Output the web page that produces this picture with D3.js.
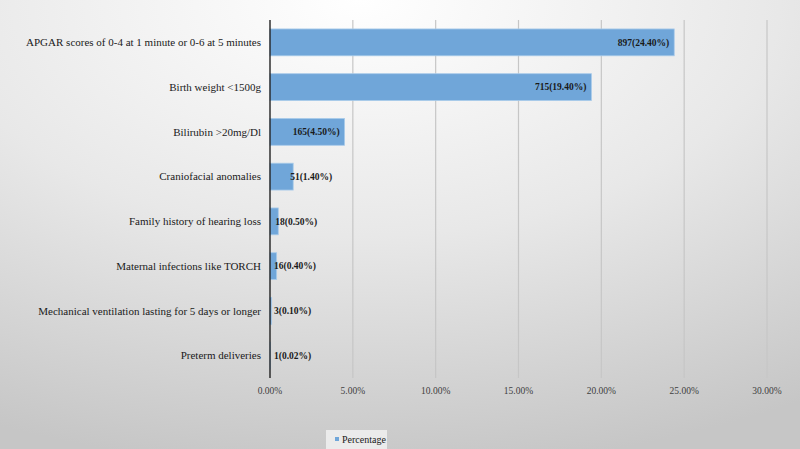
<!DOCTYPE html>
<html>
<head>
<meta charset="utf-8">
<script src="https://cdn.jsdelivr.net/npm/d3@7/dist/d3.min.js"></script>
<style>
  body { margin: 0; }
  svg { display: block; }
</style>
</head>
<body>
<svg id="chart" width="800" height="449"></svg>
<script>
// data
const categories = [
  "APGAR scores of 0-4 at 1 minute or 0-6 at 5 minutes",
  "Birth weight <1500g",
  "Bilirubin >20mg/Dl",
  "Craniofacial anomalies",
  "Family history of hearing loss",
  "Maternal infections like TORCH",
  "Mechanical ventilation lasting for 5 days or longer",
  "Preterm deliveries"
];
const counts = [897, 715, 165, 51, 18, 16, 3, 1];
const percentages = [24.40, 19.40, 4.50, 1.40, 0.50, 0.40, 0.10, 0.02];
const xTicks = [0, 5, 10, 15, 20, 25, 30];
const seriesName = "Percentage";

const width = 800, height = 449;
const margin = {top: 20, right: 33, bottom: 71, left: 270};

const svg = d3.select('#chart');

// background gradient
const defs = svg.append('defs');
const grad = defs.append('radialGradient')
  .attr('id', 'bg')
  .attr('cx', '45%').attr('cy', '0%')
  .attr('r', '105%')
  .attr('gradientUnits', 'objectBoundingBox');
grad.append('stop').attr('offset', '0%').attr('stop-color', '#ffffff');
grad.append('stop').attr('offset', '50%').attr('stop-color', '#e8e8e8');
grad.append('stop').attr('offset', '100%').attr('stop-color', '#c6c6c6');

svg.append('rect')
  .attr('width', width).attr('height', height)
  .attr('fill', 'url(#bg)');

const x = d3.scaleLinear()
  .domain([0, 30])
  .range([margin.left, width - margin.right]);

const y = d3.scaleBand()
  .domain(categories)
  .range([margin.top, height - margin.bottom])
  .paddingInner(0.4)
  .paddingOuter(0.2);

// gridlines
svg.append('g')
  .selectAll('line')
  .data(xTicks.slice(1))
  .join('line')
  .attr('x1', d => x(d)).attr('x2', d => x(d))
  .attr('y1', margin.top).attr('y2', height - margin.bottom)
  .attr('stroke', '#c6c6c6')
  .attr('stroke-width', 1.2);

// tick labels
svg.append('g')
  .selectAll('text')
  .data(xTicks)
  .join('text')
  .attr('x', d => x(d))
  .attr('y', height - margin.bottom + 16)
  .attr('text-anchor', 'middle')
  .attr('font-family', 'Liberation Serif, Times New Roman, serif')
  .attr('font-size', 9.5)
  .attr('fill', '#404040')
  .text(d => d.toFixed(2) + '%');

// bars
const rows = categories.map((c, i) => ({name: c, count: counts[i], pct: percentages[i]}));

svg.append('g')
  .selectAll('rect')
  .data(rows)
  .join('rect')
  .attr('x', x(0))
  .attr('y', d => y(d.name))
  .attr('width', d => x(d.pct) - x(0))
  .attr('height', y.bandwidth())
  .attr('fill', '#70a6d9')
  .attr('stroke', '#a9cbea')
  .attr('stroke-width', 0.8);

// axis line
svg.append('line')
  .attr('x1', x(0)).attr('x2', x(0))
  .attr('y1', margin.top).attr('y2', height - margin.bottom)
  .attr('stroke', '#111')
  .attr('stroke-width', 1.3);

// category labels
svg.append('g')
  .selectAll('text')
  .data(rows)
  .join('text')
  .attr('x', x(0) - 9)
  .attr('y', d => y(d.name) + y.bandwidth() / 2)
  .attr('dy', '0.35em')
  .attr('text-anchor', 'end')
  .attr('font-family', 'Liberation Serif, Times New Roman, serif')
  .attr('font-size', 11)
  .attr('fill', '#1a1a1a')
  .text(d => d.name);

// value labels
const vals = svg.append('g')
  .selectAll('text')
  .data(rows)
  .join('text')
  .attr('y', d => y(d.name) + y.bandwidth() / 2)
  .attr('dy', '0.35em')
  .attr('font-family', 'Liberation Serif, Times New Roman, serif')
  .attr('font-size', 9.5)
  .attr('font-weight', 'bold')
  .attr('fill', '#1a1a1a')
  .text(d => `${d.count}(${d.pct.toFixed(2)}%)`);

vals.each(function(d) {
  const w = this.getComputedTextLength();
  const end = x(d.pct);
  let xp;
  if (end - x(0) > w + 10) xp = end - 5 - w;
  else xp = Math.max(end - 3, x(0) + 4);
  d3.select(this).attr('x', xp);
});

// legend
const lg = svg.append('g').attr('transform', 'translate(326,430)');
lg.append('rect')
  .attr('width', 61).attr('height', 19)
  .attr('fill', '#ebebeb');
lg.append('rect')
  .attr('x', 9).attr('y', 7)
  .attr('width', 4).attr('height', 4)
  .attr('fill', '#70a6d9');
lg.append('text')
  .attr('x', 16).attr('y', 13)
  .attr('font-family', 'Liberation Serif, Times New Roman, serif')
  .attr('font-size', 10)
  .attr('fill', '#1a1a1a')
  .text(seriesName);
</script>
</body>
</html>
